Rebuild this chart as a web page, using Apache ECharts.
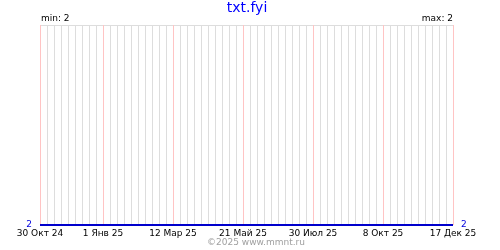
<!DOCTYPE html>
<html><head><meta charset="utf-8">
<script src="https://cdn.jsdelivr.net/npm/echarts@6/dist/echarts.min.js"></script>
<style>html,body{margin:0;padding:0;background:#fff}#c{width:500px;height:250px}</style>
</head><body><div id="c"></div>
<script>
const startDate = '2024-10-30';
const endDate = '2025-12-17';
const tickDates = ['2024-10-30','2025-01-01','2025-03-12','2025-05-21','2025-07-30','2025-10-08','2025-12-17'];
const tickLabels = ['30 Окт 24','1 Янв 25','12 Мар 25','21 Май 25','30 Июл 25','8 Окт 25','17 Дек 25'];
const seriesDates = ['2024-10-30','2025-12-17'];
const seriesValues = [2, 2];
const minValue = 2, maxValue = 2;

function dayOffset(s){
  return Math.round((Date.parse(s+'T00:00:00Z') - Date.parse(startDate+'T00:00:00Z'))/86400000);
}
const font = 'DejaVu Sans';
const chart = echarts.init(document.getElementById('c'), null, {renderer:'canvas'});
chart.setOption({
  animation:false,
  grid:{left:40,right:47,top:25,bottom:25,containLabel:false,outerBoundsMode:'none'},
  graphic:[
    {type:'text',x:247,y:8,style:{text:'txt.fyi',fill:'#0000ff',font:'14px "DejaVu Sans"',textAlign:'center',textVerticalAlign:'middle'}},
    {type:'text',x:41,y:19,style:{text:'min: '+minValue,fill:'#000',font:'9px "DejaVu Sans"',textVerticalAlign:'middle',textAlign:'left'}},
    {type:'text',x:453,y:19,style:{text:'max: '+maxValue,fill:'#000',font:'9px "DejaVu Sans"',textVerticalAlign:'middle',textAlign:'right'}},
    {type:'text',x:256,y:243,style:{text:'©2025 www.mmnt.ru',fill:'#a0a0a0',font:'9px "DejaVu Sans"',textVerticalAlign:'middle',textAlign:'center'}}
  ],
  xAxis:{type:'value',min:0,max:dayOffset(endDate),interval:7,z:0,
    axisLine:{show:false},axisTick:{show:false},
    splitLine:{show:true,lineStyle:{color:'#dddddd',width:1}},
    axisLabel:{show:true,margin:4,color:'#000',fontFamily:font,fontSize:9,showMinLabel:true,showMaxLabel:true,
      formatter:function(v){const i=tickDates.findIndex(d=>dayOffset(d)===v);return i>=0?tickLabels[i]:'';}}
  },
  yAxis:[
    {type:'value',min:2,max:3,interval:1,position:'left',
      axisLine:{show:false},axisTick:{show:false},
      splitLine:{show:true,lineStyle:{color:'#dddddd'}},
      axisLabel:{margin:8,color:'#0000dd',fontFamily:font,fontSize:9,formatter:v=>v===2?'2':''}},
    {type:'value',min:2,max:3,interval:1,position:'right',
      axisLine:{show:false},axisTick:{show:false},splitLine:{show:false},
      axisLabel:{margin:8,color:'#0000dd',fontFamily:font,fontSize:9,formatter:v=>v===2?'2':''}}
  ],
  series:[{
    type:'custom',z:5,zlevel:1,
    data:tickDates.map(d=>[dayOffset(d),2]),
    encode:{x:0,y:1},
    renderItem:function(params,api){
      const p = api.coord([api.value(0),2]);
      const x = Math.round(p[0])+0.5;
      const yt = api.coord([api.value(0),3])[1];
      return {type:'line',shape:{x1:x,y1:yt,x2:x,y2:p[1]},style:{stroke:'#ffc4c4',lineWidth:1}};
    }
  },{
    type:'line',symbol:'none',zlevel:1,z:6,
    data:seriesDates.map((d,i)=>[dayOffset(d),seriesValues[i]]),
    lineStyle:{color:'#0000cc',width:2}
  }]
});
</script></body></html>
